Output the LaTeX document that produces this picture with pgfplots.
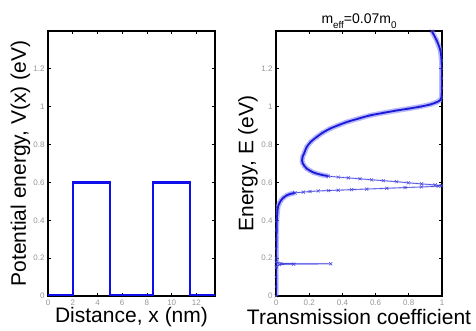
\documentclass[border=0pt]{standalone}
\usepackage{fontspec}
\setmainfont{Liberation Sans}
\usepackage{pgfplots}
\pgfplotsset{compat=1.18}
\definecolor{mblue}{RGB}{15,15,235}
\definecolor{cblue}{RGB}{25,25,215}
\definecolor{hblue}{RGB}{130,130,250}
\definecolor{tgray}{RGB}{150,150,150}
\newcommand\subfont{\fontsize{7}{8}\selectfont}
\newcommand\labfont{\fontsize{21}{24}\selectfont}
\newcommand\tickfont{\fontsize{8}{9}\selectfont}
\begin{document}
\begin{tikzpicture}
\useasboundingbox (0,0) rectangle (476pt,331pt);
\pgfplotsset{
  common/.style={
    scale only axis, height=265pt, anchor=south west,
    ymin=0, ymax=1.4, ytick={0,0.2,0.4,0.6,0.8,1,1.2},
    axis line style={line width=1.1pt, black},
    tick style={black, line width=0.8pt},
    major tick length=3pt,
    tick align=inside,
    /pgf/number format/assume math mode=true,
    ticklabel style={font=\tickfont, text=tgray},
    label style={font=\labfont},
    clip=true,
  }
}
% Left panel: potential profile
\begin{axis}[common, at={(48pt,35pt)}, width=167pt,
  xmin=0, xmax=13.5, xtick={0,2,4,6,8,10,12},
  xlabel={Distance, x (nm)},
  ylabel={Potential energy, V(x) (eV)},
  xlabel style={at={(axis description cs:0.5,-0.079)}, anchor=center},
  ylabel style={at={(axis description cs:-0.165,0.5)}, anchor=center},
]
\addplot[mblue, line width=2.4pt, line join=miter] coordinates {
 (0,0.003) (2,0.003) (2,0.6) (5,0.6) (5,0.003) (8.5,0.003) (8.5,0.6) (11.5,0.6) (11.5,0.003) (13.5,0.003)};
\end{axis}
% Right panel: transmission
\begin{axis}[common, at={(276pt,35pt)}, width=166pt,
  xmin=0, xmax=1, xtick={0,0.2,0.4,0.6,0.8,1},
  xlabel={Transmission coefficient},
  ylabel={Energy, E (eV)},
  xlabel style={at={(axis description cs:0.5,-0.079)}, anchor=center},
  ylabel style={at={(axis description cs:-0.169,0.5)}, anchor=center},
  clip mode=individual,
]
\pgfplotstableread{
T E
0.000 0.000
0.001 0.050
0.001 0.100
0.001 0.150
0.002 0.200
0.002 0.250
0.003 0.300
0.004 0.350
0.005 0.400
0.008 0.440
0.012 0.470
0.020 0.490
0.030 0.505
0.045 0.520
0.065 0.532
0.090 0.540
0.114 0.545
}\lowbranch
\pgfplotstableread{
T E
0.315 0.633
0.270 0.641
0.230 0.651
0.205 0.662
0.185 0.673
0.170 0.688
0.160 0.703
0.157 0.717
0.160 0.735
0.170 0.755
0.185 0.787
0.210 0.815
0.245 0.840
0.280 0.862
0.325 0.884
0.375 0.902
0.426 0.919
0.500 0.938
0.566 0.954
0.650 0.968
0.727 0.980
0.800 0.990
0.867 1.000
0.930 1.012
0.968 1.024
0.990 1.035
0.997 1.050
0.998 1.100
0.998 1.150
0.998 1.200
0.997 1.244
0.990 1.297
0.968 1.350
0.938 1.400
}\upbranch
\pgfplotstableread{
T E
0.114 0.545
0.165 0.549
0.205 0.552
0.255 0.555
0.315 0.557
0.375 0.559
0.456 0.562
0.546 0.565
0.667 0.569
0.777 0.573
0.877 0.576
0.978 0.580
0.998 0.583
0.958 0.587
0.877 0.592
0.797 0.598
0.727 0.604
0.647 0.609
0.576 0.614
0.506 0.619
0.436 0.624
0.375 0.628
0.315 0.633
}\resA
\pgfplotstableread{
T E
0.002 0.155
0.020 0.166
0.107 0.168
0.330 0.170
0.030 0.172
0.002 0.180
}\resB
\addplot[hblue, opacity=0.55, line width=5pt, mark=x, mark size=2.5pt, mark options={line width=0.6pt}] table[x=T,y=E] {\lowbranch};
\addplot[hblue, opacity=0.55, line width=5pt, mark=x, mark size=2.5pt, mark options={line width=0.6pt}] table[x=T,y=E] {\upbranch};
\addplot[hblue, opacity=0.4, line width=1.6pt] table[x=T,y=E] {\resA};
\addplot[hblue, opacity=0.4, line width=1.6pt] table[x=T,y=E] {\resB};
\addplot[cblue, line width=1.8pt, smooth] table[x=T,y=E] {\lowbranch};
\addplot[cblue, line width=1.8pt, smooth] table[x=T,y=E] {\upbranch};
\addplot[cblue!80, line width=0.6pt, mark=x, mark size=2.2pt, mark options={line width=0.5pt}] table[x=T,y=E] {\resA};
\addplot[cblue!80, line width=0.6pt, mark=x, mark size=2.2pt, mark options={line width=0.5pt}] table[x=T,y=E] {\resB};
\node[anchor=base, inner sep=0pt, scale=1.4] at (axis description cs:0.5,1.03)
  {m\raisebox{-0.7ex}{\subfont eff}=0.07m\raisebox{-0.7ex}{\subfont 0}};
\end{axis}
\end{tikzpicture}
\end{document}
